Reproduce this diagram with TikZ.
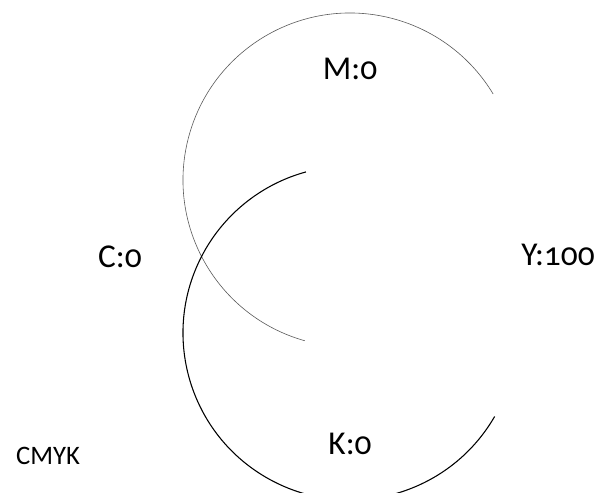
\documentclass[tikz,border=0pt]{standalone}
\usepackage{fontspec}
\setmainfont{Carlito}[Numbers=OldStyle]
\tikzset{
  lbl/.style={font=\fontsize{25}{28}\selectfont,inner sep=0pt},
  small lbl/.style={font=\fontsize{20}{24}\selectfont,inner sep=0pt},
  thin arc/.style={black!65,line width=.45pt},
  bold arc/.style={black,line width=.8pt}
}
\begin{document}
\begin{tikzpicture}[x=.75pt,y=-.75pt]
  \def\r{167}
  \useasboundingbox (0,0) rectangle (601,493);
  \draw[thin arc] (350,180) ++(105.7:\r) arc (105.7:329:\r);
  \draw[bold arc] (350,333) ++(30:\r) arc (30:254.7:\r);
  \node[lbl] (m) at (350,69) {M:0};
  \node[lbl] (k) at (350,444) {K:0};
  \node[lbl] (c) at (120,257) {C:0};
  \node[lbl] (y) at (558,255) {Y:100};
  \node[small lbl] (cmyk) at (48,456) {CMYK};
\end{tikzpicture}
\end{document}
